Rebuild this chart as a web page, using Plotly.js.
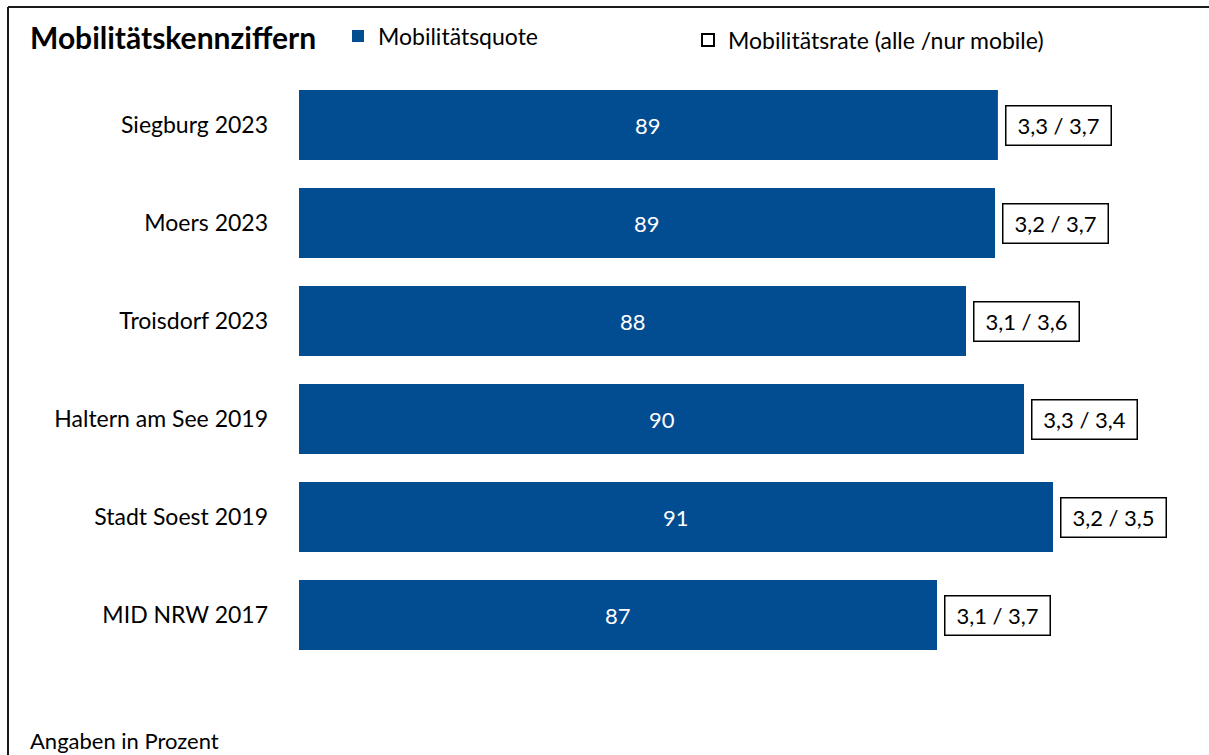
<!DOCTYPE html>
<html>
<head>
<meta charset="utf-8">
<script src="https://cdn.plot.ly/plotly-3.0.1.min.js"></script>
<style>html,body{margin:0;padding:0;background:#fff;}#chart{width:1209px;height:755px;}</style>
</head>
<body>
<div id="chart"></div>
<script>
// ---- data ----
var categories = ["Siegburg 2023", "Moers 2023", "Troisdorf 2023", "Haltern am See 2019", "Stadt Soest 2019", "MID NRW 2017"];
var quoteValues = [89.1, 89.0, 88.0, 90.0, 91.0, 87.0];
var quoteLabels = ["89", "89", "88", "90", "91", "87"];
var rateLabels = ["3,3 / 3,7", "3,2 / 3,7", "3,1 / 3,6", "3,3 / 3,4", "3,2 / 3,5", "3,1 / 3,7"];
var seriesNames = ["Mobilitätsquote", "Mobilitätsrate (alle /nur mobile)"];

// ---- layout constants ----
var FONT = "Lato, 'Open Sans', sans-serif";
var BLUE = "#024C92";
var W = 1209, H = 755;
var M = {l: 299, r: 40, t: 76, b: 91};
var AXIS_MIN = 65, AXIS_MAX = 95;
var pw = W - M.l - M.r, ph = H - M.t - M.b;
function px2paperX(p) { return (p - M.l) / pw; }
function px2paperY(p) { return 1 - (p - M.t) / ph; }

var traces = [
  {
    type: "bar",
    orientation: "h",
    name: seriesNames[0],
    x: quoteValues,
    y: categories,
    marker: {color: BLUE, line: {width: 0}},
    hoverinfo: "x+y",
    showlegend: true,
    legend: "legend"
  },
  {
    type: "scatter",
    mode: "markers",
    name: seriesNames[1],
    x: [null],
    y: [null],
    marker: {symbol: "square", color: "#ffffff", size: 12, line: {color: "#000000", width: 1.5}},
    showlegend: true,
    hoverinfo: "skip",
    legend: "legend2"
  }
];

var annotations = [];
categories.forEach(function (c, i) {
  annotations.push({
    xref: "x", yref: "y",
    x: (AXIS_MIN + quoteValues[i]) / 2, y: c,
    text: quoteLabels[i], showarrow: false,
    font: {family: FONT, size: 22, color: "#ffffff"},
    xanchor: "center", yanchor: "middle"
  });
  annotations.push({
    xref: "x", yref: "y",
    x: quoteValues[i], y: c,
    text: rateLabels[i], showarrow: false,
    xanchor: "left", yanchor: "middle", xshift: 7,
    font: {family: FONT, size: 22, color: "#000000"},
    bgcolor: "#ffffff", bordercolor: "#000000", borderwidth: 1.5, borderpad: 2,
    width: 100, height: 34
  });
});
annotations.push({
  xref: "paper", yref: "paper",
  x: px2paperX(28), y: px2paperY(740),
  text: "Angaben in Prozent", showarrow: false,
  xanchor: "left", yanchor: "middle",
  font: {family: FONT, size: 22, color: "#000000"}
});

var legendFont = {family: FONT, size: 23, color: "#000000"};

var layout = {
  width: W, height: H,
  margin: M,
  paper_bgcolor: "#ffffff",
  plot_bgcolor: "#ffffff",
  font: {family: FONT, color: "#000000"},
  title: {
    text: "<b>Mobilitätskennziffern</b>",
    x: 30 / W, xanchor: "left", xref: "container",
    y: 1 - 38 / H, yanchor: "middle", yref: "container",
    font: {family: FONT, size: 30, color: "#000000"}
  },
  bargap: 0.286,
  xaxis: {
    range: [AXIS_MIN, AXIS_MAX],
    visible: false,
    showgrid: false, zeroline: false, fixedrange: true
  },
  yaxis: {
    type: "category",
    autorange: "reversed",
    showgrid: false, zeroline: false, showline: false,
    ticks: "", ticklabelstandoff: 30,
    tickfont: {family: FONT, size: 23, color: "#000000"},
    fixedrange: true
  },
  legend: {
    orientation: "h",
    x: px2paperX(338), xanchor: "left",
    y: px2paperY(36), yanchor: "middle",
    font: legendFont,
    itemsizing: "constant",
    bgcolor: "rgba(0,0,0,0)"
  },
  legend2: {
    orientation: "h",
    x: px2paperX(688), xanchor: "left",
    y: px2paperY(40), yanchor: "middle",
    font: legendFont,
    itemsizing: "constant",
    bgcolor: "rgba(0,0,0,0)"
  },
  annotations: annotations,
  shapes: [
    {type: "line", xref: "paper", yref: "paper",
     x0: px2paperX(8), x1: px2paperX(1209), y0: px2paperY(7), y1: px2paperY(7),
     line: {color: "#1a1a1a", width: 2}},
    {type: "line", xref: "paper", yref: "paper",
     x0: px2paperX(8), x1: px2paperX(8), y0: px2paperY(7), y1: px2paperY(760),
     line: {color: "#1a1a1a", width: 2}}
  ]
};

Plotly.newPlot("chart", traces, layout, {displayModeBar: false, staticPlot: true});
</script>
</body>
</html>
